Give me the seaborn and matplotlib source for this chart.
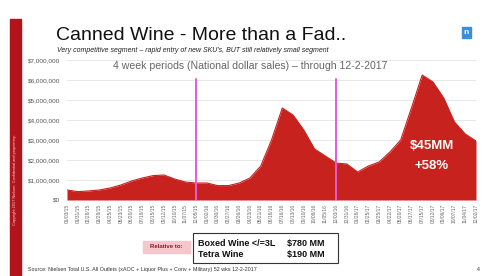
import matplotlib
matplotlib.use("Agg")
import matplotlib.pyplot as plt
import seaborn as sns
import pandas as pd
from matplotlib.patches import Rectangle
from matplotlib.ticker import FuncFormatter

# ---- data ----
periods = ["01/03/15", "01/31/15", "02/28/15", "03/28/15", "04/25/15", "05/23/15",
           "06/20/15", "07/18/15", "08/15/15", "09/12/15", "10/10/15", "11/07/15",
           "12/05/15", "01/02/16", "01/30/16", "02/27/16", "03/26/16", "04/23/16",
           "05/21/16", "06/18/16", "07/16/16", "08/13/16", "09/10/16", "10/08/16",
           "11/05/16", "12/03/16", "12/31/16", "01/28/17", "02/25/17", "03/25/17",
           "04/22/17", "05/20/17", "06/17/17", "07/15/17", "08/12/17", "09/09/17",
           "10/07/17", "11/04/17", "12/02/17"]
sales = [0.50, 0.42, 0.45, 0.50, 0.60, 0.75, 0.95, 1.10, 1.22, 1.25, 1.05, 0.90,
         0.85, 0.85, 0.72, 0.72, 0.85, 1.10, 1.70, 3.00, 4.60, 4.25, 3.50, 2.55,
         2.20, 1.85, 1.80, 1.40, 1.70, 1.90, 2.40, 3.00, 4.60, 6.25, 5.90, 5.10,
         3.90, 3.30, 2.95]
sales = [v * 1_000_000 for v in sales]
year_marks = [12, 25]
yticks = [0, 1e6, 2e6, 3e6, 4e6, 5e6, 6e6, 7e6]

W, H = 482, 276
sns.set_style("white")
plt.rcParams['font.family'] = ['Liberation Sans', 'DejaVu Sans']

fig = plt.figure(figsize=(W / 100, H / 100), dpi=100)
ax = fig.add_axes([67 / W, 1 - 200 / H, (476 - 67) / W, 140 / H])

df = pd.DataFrame({"idx": range(len(sales)), "sales": sales})
red = "#C8221E"
sns.lineplot(data=df, x="idx", y="sales", ax=ax, color=red, lw=0.8)
ax.fill_between(df["idx"], 0, df["sales"], color=red, lw=0, zorder=2)
for m in year_marks:
    ax.axvline(m, ymin=0, ymax=6.05 / 7, color="#E45BD6", lw=1.4, zorder=3)

ax.set_xlim(0, len(sales) - 1)
ax.set_ylim(0, 7e6)
ax.set_yticks(yticks)
ax.yaxis.set_major_formatter(FuncFormatter(lambda v, p: f"${v:,.0f}"))
ax.tick_params(axis="y", labelsize=4.6, labelcolor="#555555", length=0, pad=5)
ax.set_xticks(range(len(periods)))
ax.set_xticklabels(periods, rotation=90, fontsize=3.5, color="#666666")
ax.tick_params(axis="x", length=0, pad=3)
ax.grid(axis="y", color="#E3E3E3", lw=0.6, zorder=0)
ax.set_axisbelow(True)
for s in ax.spines.values():
    s.set_visible(False)
ax.set_xlabel("")
ax.set_ylabel("")

# chart title inside plot
fig.text(250.5 / W, 1 - 65.5 / H, "4 week periods (National dollar sales) \u2013 through 12-2-2017",
         ha="center", va="center", fontsize=7.6, color="#666666")

# annotation
ax.text(33.9, 2.7e6, "$45MM", ha="center", va="center", color="white",
        fontsize=9.5, fontweight="bold", zorder=5)
ax.text(33.9, 1.7e6, "+58%", ha="center", va="center", color="white",
        fontsize=9.5, fontweight="bold", zorder=5)

# slide decorations
fig.patches.append(Rectangle((10 / W, 0), 11 / W, 1 - 19 / H, transform=fig.transFigure,
                             color="#B3141C", zorder=0))
fig.text(15.5 / W, 1 - 180 / H, "Copyright 2017 Nielsen. Confidential and proprietary.",
         rotation=90, ha="center", va="center", fontsize=2.8, color="#F4D0D0")

fig.text(56 / W, 1 - 36 / H, "Canned Wine - More than a Fad..", ha="left", va="center",
         fontsize=14, color="#111111")
fig.text(57 / W, 1 - 50.5 / H,
         "Very competitive segment \u2013 rapid entry of new SKU's, BUT still relatively small segment",
         ha="left", va="center", fontsize=5.05, style="italic", color="#222222")

fig.patches.append(Rectangle((462 / W, 1 - 38 / H), 9 / W, 11 / H, transform=fig.transFigure,
                             color="#3B8EDB", zorder=1))
fig.text(466.5 / W, 1 - 32.5 / H, "n", ha="center", va="center", fontsize=6, color="white",
         fontweight="bold")

# relative-to box
fig.patches.append(Rectangle((143 / W, 1 - 253 / H), 47 / W, 12 / H, transform=fig.transFigure,
                             color="#F5C6CC", zorder=1))
fig.text(166.5 / W, 1 - 247 / H, "Relative to:", ha="center", va="center", fontsize=4.3,
         color="#8A1A24", fontweight="bold")
fig.patches.append(Rectangle((193 / W, 1 - 263 / H), 145 / W, 30 / H, transform=fig.transFigure,
                             facecolor="white", edgecolor="#333333", lw=0.8, zorder=1))
fig.text(198 / W, 1 - 243.5 / H, "Boxed Wine </=3L", ha="left", va="center", fontsize=6.5,
         fontweight="bold", color="#111111")
fig.text(287 / W, 1 - 243.5 / H, "$780 MM", ha="left", va="center", fontsize=6.5,
         fontweight="bold", color="#111111")
fig.text(198 / W, 1 - 254.5 / H, "Tetra Wine", ha="left", va="center", fontsize=6.5,
         fontweight="bold", color="#111111")
fig.text(287 / W, 1 - 254.5 / H, "$190 MM", ha="left", va="center", fontsize=6.5,
         fontweight="bold", color="#111111")

fig.text(28 / W, 1 - 269.5 / H,
         "Source: Nielsen Total U.S. All Outlets (xAOC + Liquor Plus + Conv + Military) 52 wks 12-2-2017",
         ha="left", va="center", fontsize=3.9, color="#333333")
fig.text(478 / W, 1 - 269.5 / H, "4", ha="center", va="center", fontsize=3.8, color="#333333")

fig.savefig("out.png", dpi=100)
